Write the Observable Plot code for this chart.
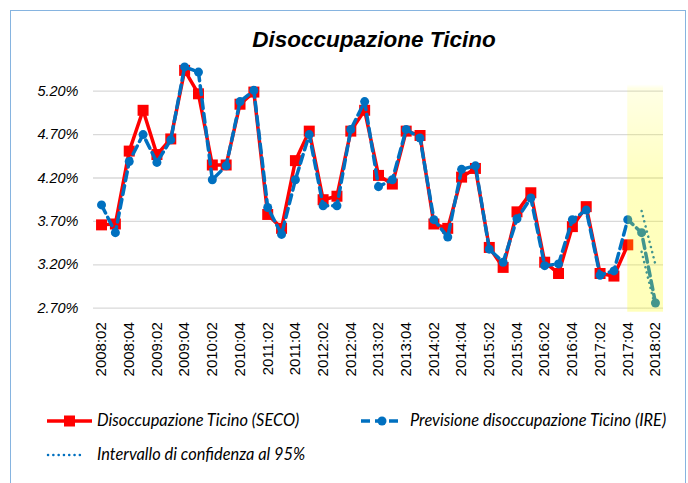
<!DOCTYPE html>
<html>
<head>
<meta charset="utf-8">
<script src="https://cdn.jsdelivr.net/npm/d3@7"></script>
<script src="https://cdn.jsdelivr.net/npm/@observablehq/plot@0.6"></script>
<style>
  html, body { margin: 0; padding: 0; background: #fff; }
  #wrap { position: relative; width: 688px; height: 483px; overflow: hidden; background: #fff; }
  #frame { position: absolute; left: 10px; top: 10px; width: 676px; height: 490px; border: 1px solid #86B4E0; box-sizing: border-box; }
  #title { position: absolute; left: 60px; width: 628px; top: 27px; text-align: center;
           font: italic bold 22.5px "Liberation Sans", Arial, sans-serif; color: #000; }
  #chart { position: absolute; left: 0; top: 0; }
  .leg { position: absolute; font: italic 16.4px Lato, "Open Sans", sans-serif; color: #000; line-height: 18px; }
  .sw { position: absolute; }
</style>
</head>
<body>
<div id="wrap">
  <div id="frame"></div>
  <div id="chart"></div>
  <div id="title">Disoccupazione Ticino</div>
  <svg class="sw" style="left:44px;top:411px" width="52" height="20">
    <line x1="3" y1="10" x2="48" y2="10" stroke="#FF0000" stroke-width="3.5"/>
    <rect x="20" y="4.5" width="11" height="11" fill="#FF0000"/>
  </svg>
  <div class="leg" style="left:97px;top:411px">Disoccupazione Ticino (SECO)</div>
  <svg class="sw" style="left:358px;top:411px" width="50" height="20">
    <line x1="3" y1="10" x2="45" y2="10" stroke="#0070C0" stroke-width="3.5" stroke-dasharray="9,5"/>
    <circle cx="24" cy="10" r="4.5" fill="#0070C0"/>
  </svg>
  <div class="leg" style="left:410px;top:411px">Previsione disoccupazione Ticino (IRE)</div>
  <svg class="sw" style="left:44px;top:445px" width="40" height="20">
    <line x1="4" y1="10" x2="36" y2="10" stroke="#0070C0" stroke-width="2.5" stroke-dasharray="0.1,5.2" stroke-linecap="round"/>
  </svg>
  <div class="leg" style="left:97px;top:445px">Intervallo di confidenza al 95%</div>
</div>
<script>
// Quarter categories (tick labels)
const quarters = [
  "2008:02","2008:03","2008:04","2009:01","2009:02","2009:03","2009:04","2010:01",
  "2010:02","2010:03","2010:04","2011:01","2011:02","2011:03","2011:04","2012:01",
  "2012:02","2012:03","2012:04","2013:01","2013:02","2013:03","2013:04","2014:01",
  "2014:02","2014:03","2014:04","2015:01","2015:02","2015:03","2015:04","2016:01",
  "2016:02","2016:03","2016:04","2017:01","2017:02","2017:03","2017:04","2018:01",
  "2018:02"
];
const tickLabels = ["2008:02","2008:04","2009:02","2009:04","2010:02","2010:04","2011:02","2011:04",
  "2012:02","2012:04","2013:02","2013:04","2014:02","2014:04","2015:02","2015:04",
  "2016:02","2016:04","2017:02","2017:04","2018:02"];
const yTicks = [2.7, 3.2, 3.7, 4.2, 4.7, 5.2];

// Disoccupazione Ticino (SECO), %
const seco = [3.66,3.67,4.51,4.98,4.47,4.65,5.44,5.17,4.35,4.35,5.05,5.19,3.78,3.62,
  4.40,4.74,3.95,3.99,4.74,4.98,4.23,4.13,4.74,4.69,3.67,3.62,4.21,4.31,3.40,3.17,
  3.81,4.03,3.23,3.10,3.64,3.87,3.10,3.07,3.43];
// Previsione disoccupazione Ticino (IRE), %
const ire = [3.89,3.57,4.39,4.70,4.38,4.64,5.48,5.42,4.18,4.34,5.08,5.21,3.86,3.55,
  4.18,4.70,3.88,3.88,4.76,5.08,4.10,4.18,4.76,4.66,3.72,3.52,4.30,4.34,3.38,3.23,
  3.73,3.97,3.19,3.21,3.72,3.83,3.08,3.13,3.72,3.57,2.76];
// Intervallo di confidenza al 95%
const ciQuarters = ["2018:01","2018:02"];
const ciUpper = [3.82, 3.20];
const ciLower = [3.35, 2.70];
const forecastStart = "2017:04";

const secoData = seco.map((v, i) => ({i, q: quarters[i], v}));
const ireData = ire.map((v, i) => ({i, q: quarters[i], v}));
const ciData = [
  ...ciQuarters.map((q, k) => ({i: quarters.indexOf(q), v: ciUpper[k], s: "upper"})),
  ...ciQuarters.map((q, k) => ({i: quarters.indexOf(q), v: ciLower[k], s: "lower"}))
];
const xDomain = [-0.58, quarters.length - 1 + 0.58];
const band = [{x1: quarters.indexOf(forecastStart), x2: xDomain[1]}];
const tickIdx = tickLabels.map(t => quarters.indexOf(t));

const chart = Plot.plot({
  width: 688,
  height: 400,
  marginLeft: 93,
  marginRight: 25,
  marginTop: 47.3,
  marginBottom: 92.3,
  style: {fontFamily: "'Liberation Sans', Arial, sans-serif", background: "transparent", color: "#000", overflow: "visible"},
  x: {type: "linear", domain: xDomain},
  y: {domain: [2.7, 5.7]},
  marks: [
    Plot.gridY(yTicks, {stroke: "#D9D9D9", strokeOpacity: 1, strokeWidth: 1.3}),
    Plot.axisY(yTicks, {tickSize: 0, tickPadding: 15, tickFormat: d => d.toFixed(2) + "%", fontStyle: "italic", fontSize: 14.5, label: null}),
    Plot.axisX(tickIdx, {tickSize: 0, tickPadding: 14, tickRotate: -90, tickFormat: i => quarters[i], fontSize: 15, label: null}),
    Plot.line(secoData, {x: "i", y: "v", stroke: "#FF0000", strokeWidth: 3.5}),
    Plot.dot(secoData, {x: "i", y: "v", symbol: "square", r: 6.2, fill: "#FF0000", stroke: "none"}),
    Plot.line(ireData, {x: "i", y: "v", stroke: "#0070C0", strokeWidth: 3.5, strokeDasharray: "9,5"}),
    Plot.dot(ireData, {x: "i", y: "v", r: 4.5, fill: "#0070C0", stroke: "none"}),
    Plot.line(ciData, {x: "i", y: "v", z: "s", stroke: "#0070C0", strokeWidth: 2.5, strokeDasharray: "0.1,5.2", strokeLinecap: "round"}),
    Plot.rect(band, {x1: "x1", x2: "x2", fill: "url(#ybg)", insetBottom: -4})
  ]
});

const defs = d3.select(chart).insert("defs", ":first-child");
const g = defs.append("linearGradient").attr("id", "ybg").attr("x1", 0).attr("y1", 0).attr("x2", 0).attr("y2", 1);
g.append("stop").attr("offset", "0").attr("stop-color", "#FFFF00").attr("stop-opacity", 0);
g.append("stop").attr("offset", "0.14").attr("stop-color", "#FFFF00").attr("stop-opacity", 0);
g.append("stop").attr("offset", "0.155").attr("stop-color", "#FFFF00").attr("stop-opacity", 0.1);
g.append("stop").attr("offset", "0.5").attr("stop-color", "#FFFF00").attr("stop-opacity", 0.25);
g.append("stop").attr("offset", "1").attr("stop-color", "#FFFF00").attr("stop-opacity", 0.27);

document.getElementById("chart").appendChild(chart);
</script>
</body>
</html>
